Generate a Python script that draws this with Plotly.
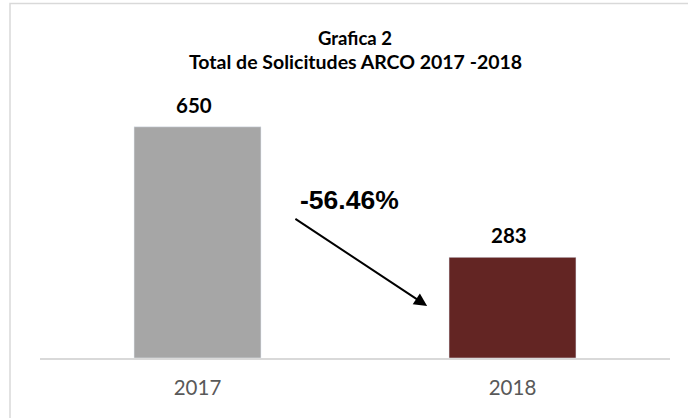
import plotly.graph_objects as go

years = ["2017", "2018"]
totals = [650, 283]
bar_colors = ["#A6A6A6", "#632523"]
change_label = "-56.46%"
title_lines = ["Grafica 2", "Total de Solicitudes ARCO 2017 -2018"]

FONT = "Lato, Carlito, sans-serif"
AXIS_PX = 358.0   # pixel row of the x-axis line
PLOT_H = 249.0    # plot-area height in pixels


def py(px):
    """pixel row -> paper y"""
    return (AXIS_PX - px) / PLOT_H


fig = go.Figure()
fig.add_trace(go.Bar(
    x=years, y=totals, marker_color=bar_colors, width=0.403,
    hoverinfo="skip"
))

for i, v in enumerate(totals):
    fig.add_annotation(x=i, y=v, xref="x", yref="y", text=f"<b>{v}</b>", showarrow=False,
                       yanchor="bottom", yshift=8, xshift=-4,
                       font=dict(family=FONT, size=20.5, color="#000000"))

# arrow and change label
fig.add_annotation(x=0.729, y=146, ax=0.306, ay=394, xref="x", yref="y",
                   axref="x", ayref="y", text="", showarrow=True,
                   arrowhead=2, arrowsize=1.3, arrowwidth=2, arrowcolor="#000000")
fig.add_annotation(x=0.481, y=445, xref="x", yref="y", text=f"<b>{change_label}</b>",
                   showarrow=False,
                   font=dict(family="Liberation Sans, Arial, sans-serif", size=26.5, color="#000000"))

# two title lines
fig.add_annotation(x=0.5, y=py(38), xref="paper", yref="paper", text=f"<b>{title_lines[0]}</b>",
                   showarrow=False, yanchor="middle", xanchor="center", borderpad=0,
                   font=dict(family=FONT, size=18.5, color="#000000"))
fig.add_annotation(x=0.5, y=py(61), xref="paper", yref="paper", text=f"<b>{title_lines[1]}</b>",
                   showarrow=False, yanchor="middle", xanchor="center", borderpad=0,
                   font=dict(family=FONT, size=19.5, color="#000000"))

# outer frame
fig.add_shape(type="rect", xref="paper", yref="paper",
              x0=(10 - 40) / 630, x1=(720 - 40) / 630,
              y0=py(440), y1=py(3.5),
              line=dict(color="#D9D9D9", width=1.5), fillcolor="rgba(0,0,0,0)", layer="below")

fig.update_layout(
    width=688, height=418,
    margin=dict(l=40, r=18, t=109, b=60),
    paper_bgcolor="white", plot_bgcolor="white",
    showlegend=False,
    xaxis=dict(type="category", range=[-0.5, 1.5], showline=True, linecolor="#D9D9D9",
               linewidth=1.5, ticks="", showgrid=False, ticklabelstandoff=11,
               tickfont=dict(family=FONT, size=20.5, color="#595959")),
    yaxis=dict(range=[0, 700], visible=False, showgrid=False),
)

fig.write_html("out.html", post_script="document.body.style.margin='0';",
               config={"displayModeBar": False})
